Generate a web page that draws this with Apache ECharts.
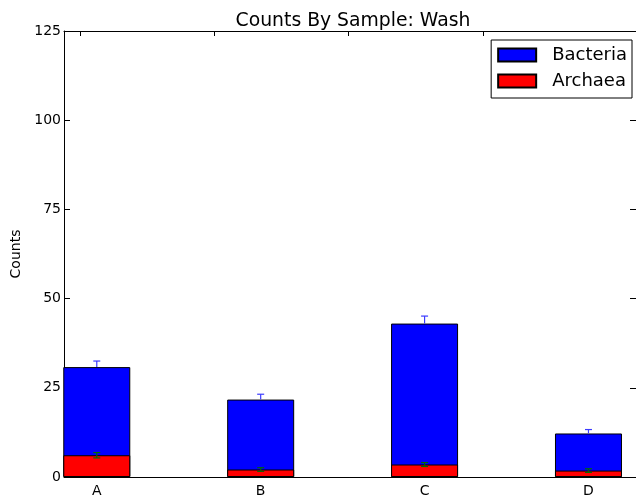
<!DOCTYPE html>
<html>
<head>
<meta charset="utf-8">
<script src="https://cdn.jsdelivr.net/npm/echarts@6/dist/echarts.min.js"></script>
<style>html,body{margin:0;padding:0;background:#fff;}#chart{width:636px;height:500px;}</style>
</head>
<body>
<div id="chart"></div>
<script>
var categories = ['A', 'B', 'C', 'D'];
var archaea = [6.1, 2.1, 3.5, 1.8];
var bacteria = [24.7, 19.6, 39.5, 10.4];
var bacteriaErr = [1.7, 1.5, 2.1, 1.1];
var archaeaErr = [0.75, 0.5, 0.55, 0.5];
var yTicks = [0, 25, 50, 75, 100, 125];
var topTicks = [0.097, 0.915, 1.733, 2.558];

var OFFSET = 0.2; // bar centre offset inside each unit slot
var centers = categories.map(function (c, i) { return i + OFFSET; });
var FONT = 'DejaVu Sans';

// Bacteria sits on top of Archaea: draw its bar from 0 to the stacked total, behind the Archaea bar
var archaeaData = archaea.map(function (v, i) { return [centers[i], v]; });
var bacteriaData = bacteria.map(function (v, i) { return [centers[i], v + archaea[i]]; });
var bactErrData = bacteria.map(function (v, i) { return [centers[i], v + archaea[i], bacteriaErr[i], 0]; });
var archErrData = archaea.map(function (v, i) { return [centers[i], v, archaeaErr[i], archaeaErr[i]]; });

function errRender(color) {
  return function (params, api) {
    var x = api.value(0), y = api.value(1), up = api.value(2), dn = api.value(3);
    var pTop = api.coord([x, y + up]);
    var pBot = api.coord([x, y - dn]);
    var hw = 3.5;
    var style = { stroke: color, lineWidth: 1.2 };
    var children = [
      { type: 'line', shape: { x1: pTop[0], y1: pTop[1], x2: pBot[0], y2: pBot[1] }, style: style },
      { type: 'line', shape: { x1: pTop[0] - hw, y1: pTop[1], x2: pTop[0] + hw, y2: pTop[1] }, style: style }
    ];
    if (dn > 0) {
      children.push({ type: 'line', shape: { x1: pBot[0] - hw, y1: pBot[1], x2: pBot[0] + hw, y2: pBot[1] }, style: style });
    }
    return { type: 'group', children: children };
  };
}

var chart = echarts.init(document.getElementById('chart'), null, { renderer: 'canvas' });
chart.setOption({
  animation: false,
  backgroundColor: '#fff',
  textStyle: { fontFamily: FONT },
  title: {
    text: 'Counts By Sample: Wash',
    left: 348, textAlign: 'center', top: 7,
    textStyle: { fontFamily: FONT, fontSize: 18.8, fontWeight: 'normal', color: '#000' }
  },
  legend: {
    data: ['Bacteria', 'Archaea'],
    orient: 'vertical',
    right: 4, top: 40,
    padding: [6, 5, 8, 6],
    itemGap: 8,
    itemWidth: 38, itemHeight: 13,
    borderColor: '#000', borderWidth: 1, borderRadius: 0,
    icon: 'rect',
    textStyle: { fontFamily: FONT, fontSize: 18, color: '#000', padding: [0, 0, 0, 11] }
  },
  grid: { left: 64, top: 31, right: -4, bottom: 23, containLabel: false },
  xAxis: [{
    type: 'value', min: 0, max: 3.49, position: 'bottom',
    axisLine: { show: true, onZero: false, lineStyle: { color: '#000', width: 1 } },
    splitLine: { show: false },
    axisTick: { show: true, inside: true, length: 5, customValues: centers, lineStyle: { color: '#000' } },
    axisLabel: {
      customValues: centers, margin: 7, color: '#000', fontFamily: FONT, fontSize: 14,
      formatter: function (v) { return categories[Math.round(v - OFFSET)]; }
    }
  }, {
    type: 'value', min: 0, max: 3.49, position: 'top',
    axisLine: { show: true, onZero: false, lineStyle: { color: '#000', width: 1 } },
    splitLine: { show: false },
    axisTick: { show: true, inside: true, length: 5, customValues: topTicks, lineStyle: { color: '#000' } },
    axisLabel: { show: false }
  }],
  yAxis: [{
    type: 'value', min: 0, max: 125, interval: 25, position: 'left',
    name: 'Counts', nameLocation: 'middle', nameGap: 40, nameRotate: 90,
    nameTextStyle: { fontFamily: FONT, fontSize: 14, color: '#000' },
    axisLine: { show: true, onZero: false, lineStyle: { color: '#000', width: 1 } },
    splitLine: { show: false },
    axisTick: { show: true, inside: true, length: 6, lineStyle: { color: '#000' } },
    axisLabel: {
      margin: 3, color: '#000', fontFamily: FONT, fontSize: 14,
      formatter: function (v) { return yTicks.indexOf(v) >= 0 ? String(v) : ''; }
    }
  }, {
    type: 'value', min: 0, max: 125, interval: 25, position: 'right',
    axisLine: { show: true, onZero: false, lineStyle: { color: '#000', width: 1 } },
    splitLine: { show: false },
    axisTick: { show: true, inside: true, length: 6, lineStyle: { color: '#000' } },
    axisLabel: { show: false }
  }],
  series: [{
    name: 'Bacteria', type: 'bar', barWidth: 67, barGap: '-100%',
    xAxisIndex: 0, yAxisIndex: 0,
    itemStyle: { color: '#0000ff', borderColor: '#000', borderWidth: 1 },
    data: bacteriaData, z: 2
  }, {
    name: 'Archaea', type: 'bar', barWidth: 67, barGap: '-100%',
    xAxisIndex: 0, yAxisIndex: 0,
    itemStyle: { color: '#ff0000', borderColor: '#000', borderWidth: 1 },
    data: archaeaData, z: 3
  }, {
    name: 'bactErr', type: 'custom', xAxisIndex: 0, yAxisIndex: 0,
    renderItem: errRender('#3b3bff'), data: bactErrData, z: 5, silent: true
  }, {
    name: 'archErr', type: 'custom', xAxisIndex: 0, yAxisIndex: 0,
    renderItem: errRender('#006a00'), data: archErrData, z: 5, silent: true
  }]
});
</script>
</body>
</html>
